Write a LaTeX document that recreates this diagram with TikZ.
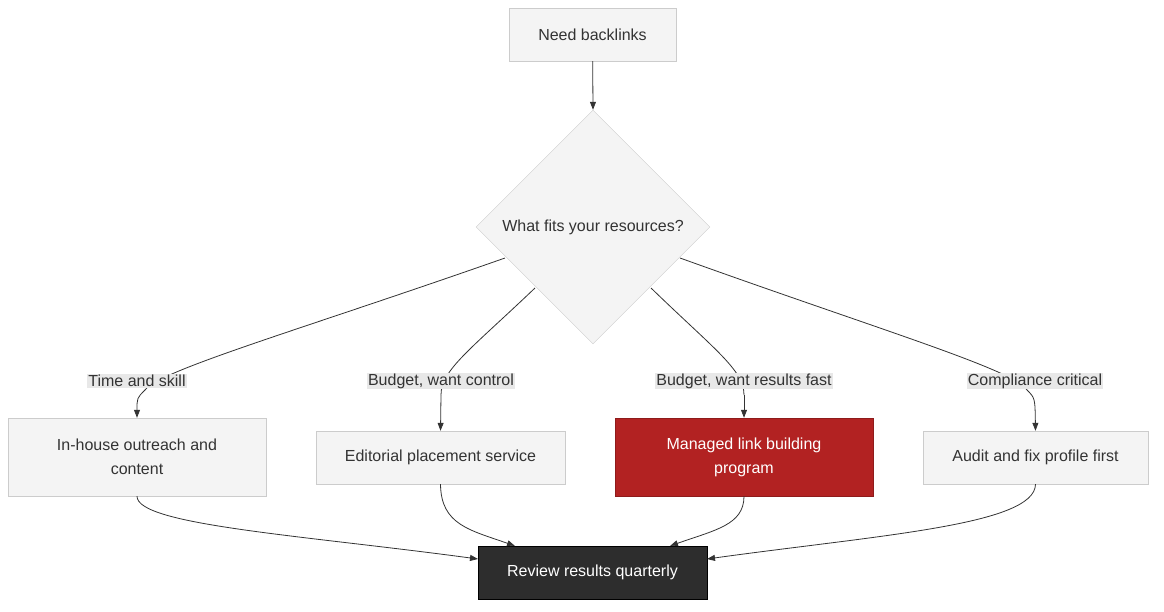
\documentclass[tikz,border=0pt]{standalone}
\usepackage{fontspec}
\setmainfont{Liberation Sans}
\usetikzlibrary{shapes.geometric,arrows.meta}
\definecolor{nfill}{HTML}{F4F4F4}
\definecolor{nline}{HTML}{CCCCCC}
\definecolor{txt}{HTML}{333333}
\definecolor{lbl}{HTML}{E8E8E8}
\definecolor{red1}{HTML}{B22222}
\definecolor{dark}{HTML}{2D2D2D}
\begin{document}
\begin{tikzpicture}[x=1pt,y=-1pt,
  box/.style={draw=nline,fill=nfill,text=txt,font=\fontsize{16}{24}\selectfont,align=center,inner sep=0pt},
  lab/.style={fill=lbl,text=txt,font=\fontsize{16}{20}\selectfont,inner sep=1pt},
  edge/.style={draw=txt,line width=0.8pt,-{Triangle[length=8pt,width=6pt]}},
  seg/.style={draw=txt,line width=0.8pt}]
\useasboundingbox (0,0) rectangle (1164,612);
\node[box,minimum width=167,minimum height=53] (need) at (592.5,34.5) {Need backlinks};
\node[box,diamond,minimum width=234,minimum height=234] (dec) at (593,227) {What fits your resources?};
\node[box,minimum width=258,minimum height=78] (inh) at (137,457) {In-house outreach and\\content};
\node[box,minimum width=249,minimum height=53] (edi) at (440.5,457.5) {Editorial placement service};
\node[box,draw=red1!80!black,fill=red1,text=white,minimum width=258,minimum height=78] (man) at (744,457) {Managed link building\\program};
\node[box,minimum width=225,minimum height=53] (aud) at (1035.5,457.5) {Audit and fix profile first};
\node[box,draw=black,fill=dark,text=white,minimum width=229,minimum height=53] (rev) at (592.5,572.5) {Review results quarterly};
\coordinate (d1) at (505,258);
\coordinate (d2) at (535,288);
\coordinate (d3) at (651,288);
\coordinate (d4) at (680,258);
\draw[edge] (need) -- (dec.north);
\draw[seg] (d1) .. controls (300,330) and (160,370) .. (145,390);
\draw[edge] (145,390) .. controls (137,398) .. (inh.north);
\draw[seg] (d2) .. controls (470,350) and (441,370) .. (441,395);
\draw[edge] (441,395) -- (edi.north);
\draw[seg] (d3) .. controls (715,350) and (744,370) .. (744,395);
\draw[edge] (744,395) -- (man.north);
\draw[seg] (d4) .. controls (880,330) and (1015,370) .. (1027,390);
\draw[edge] (1027,390) .. controls (1035,398) .. (aud.north);
\node[lab] (l1) at (137,381) {Time and skill};
\node[lab] (l2) at (441,381) {Budget, want control};
\node[lab] (l3) at (744,381) {Budget, want results fast};
\node[lab] (l4) at (1035,381) {Compliance critical};
\coordinate (r1) at (478,559);
\coordinate (r2) at (515,546);
\coordinate (r3) at (670,546);
\coordinate (r4) at (707,559);
\draw[edge] (inh.south) .. controls (137,525) and (300,535) .. (r1);
\draw[edge] (edi.south) .. controls (441,525) and (470,530) .. (r2);
\draw[edge] (man.south) .. controls (744,525) and (715,530) .. (r3);
\draw[edge] (aud.south) .. controls (1035,525) and (880,535) .. (r4);
\end{tikzpicture}
\end{document}
